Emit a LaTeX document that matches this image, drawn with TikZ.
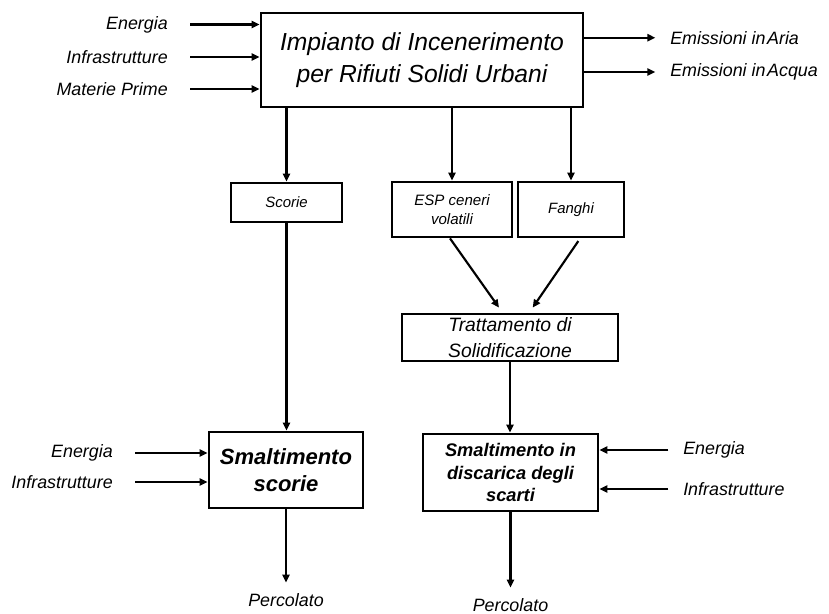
\documentclass[tikz,border=0pt]{standalone}
\usepackage{fontspec}
\setmainfont{Liberation Sans}
\usetikzlibrary{arrows.meta,positioning}

\begin{document}
\begin{tikzpicture}[x=0.75pt,y=-0.75pt,
  every node/.style={font=\itshape},
  blk/.style={draw,line width=2.1pt,align=center,inner sep=0pt},
  lbl/.style={font=\itshape\fontsize{13.4}{16}\selectfont,inner sep=0pt},
  arr/.style={-{Triangle[length=6pt,width=5.4pt]},line width=1.6pt}
]
\useasboundingbox (0,0) rectangle (829,614);

% plant and its three residues
\node[blk,minimum width=241.5pt,minimum height=70.5pt,font=\itshape\fontsize{18.5}{24}\selectfont] (impianto) at (422,60) {Impianto di Incenerimento\\per Rifiuti Solidi Urbani};
\node[blk,minimum width=83.25pt,minimum height=29.25pt,font=\itshape\fontsize{11.2}{14}\selectfont] (scorie) at (286.5,202.5) {Scorie};
\node[blk,minimum width=90pt,minimum height=41.25pt,font=\itshape\fontsize{11.3}{14}\selectfont] (esp) at (452,209.5) {ESP ceneri\\volatili};
\node[blk,minimum width=79.5pt,minimum height=41.25pt,font=\itshape\fontsize{11.2}{14}\selectfont] (fanghi) at (571,209.5) {Fanghi};
\node[blk,minimum width=162pt,minimum height=35.25pt,font=\itshape\fontsize{14.5}{19.5}\selectfont] (tratt) at (510,337.5) {Trattamento di\\Solidificazione};

% final disposal
\node[blk,minimum width=115.5pt,minimum height=57pt,font=\bfseries\itshape\fontsize{16.5}{20}\selectfont] (smalt) at (286,470) {Smaltimento\\scorie};
\node[blk,minimum width=131.25pt,minimum height=57.75pt,font=\bfseries\itshape\fontsize{13.7}{16.8}\selectfont] (disc) at (510.5,472.5) {Smaltimento in\\discarica degli\\scarti};

% inputs of the plant
\node[lbl,anchor=east] (enI) at (168,24.5) {Energia};
\node[lbl,anchor=east] (infI) at (168,57) {Infrastrutture};
\node[lbl,anchor=east] (matI) at (168,89) {Materie Prime};
\draw[arr] ([xshift=16.5pt]enI.east) -- (enI.east -| impianto.west);
\draw[arr] ([xshift=16.5pt]infI.east) -- (infI.east -| impianto.west);
\draw[arr] ([xshift=16.5pt]matI.east) -- (matI.east -| impianto.west);

% emissions
\node[lbl,anchor=west] (aria) at (670,37.7) {Emissioni in\hspace{1.2pt}Aria};
\node[lbl,anchor=west] (acqua) at (670,72) {Emissioni in\hspace{1.2pt}Acqua};
\draw[arr] (aria.west -| impianto.east) -- ([xshift=-11pt]aria.west);
\draw[arr] (acqua.west -| impianto.east) -- ([xshift=-11pt]acqua.west);

% residue flows
\draw[arr] (impianto.south -| scorie.north) -- (scorie.north);
\draw[arr] (impianto.south -| esp.north) -- (esp.north);
\draw[arr] (impianto.south -| fanghi.north) -- (fanghi.north);
\draw[arr] ([xshift=-1.5pt]esp.south) -- ([xshift=-8.25pt,yshift=3.75pt]tratt.north);
\draw[arr] ([xshift=5.5pt,yshift=-2pt]fanghi.south) -- ([xshift=17pt,yshift=3.75pt]tratt.north);
\draw[arr] (scorie.south) -- (scorie.south |- smalt.north);
\draw[arr] (tratt.south) -- (tratt.south |- disc.north);

% inputs of the disposal sites
\node[lbl,anchor=east] (enS) at (113,453) {Energia};
\node[lbl,anchor=east] (infS) at (113,482) {Infrastrutture};
\draw[arr] ([xshift=16.5pt]enS.east) -- (enS.east -| smalt.west);
\draw[arr] ([xshift=16.5pt]infS.east) -- (infS.east -| smalt.west);
\node[lbl,anchor=west] (enD) at (683,450) {Energia};
\node[lbl,anchor=west] (infD) at (683,489) {Infrastrutture};
\draw[arr] ([xshift=-11pt]enD.west) -- (enD.west -| disc.east);
\draw[arr] ([xshift=-11pt]infD.west) -- (infD.west -| disc.east);

% leachate
\node[lbl] (percS) at (286,600) {Percolato};
\node[lbl] (percD) at (510.5,605) {Percolato};
\draw[arr] (smalt.south) -- ([yshift=8pt]percS.north);
\draw[arr] (disc.south) -- ([yshift=8pt]percD.north);
\end{tikzpicture}
\end{document}
